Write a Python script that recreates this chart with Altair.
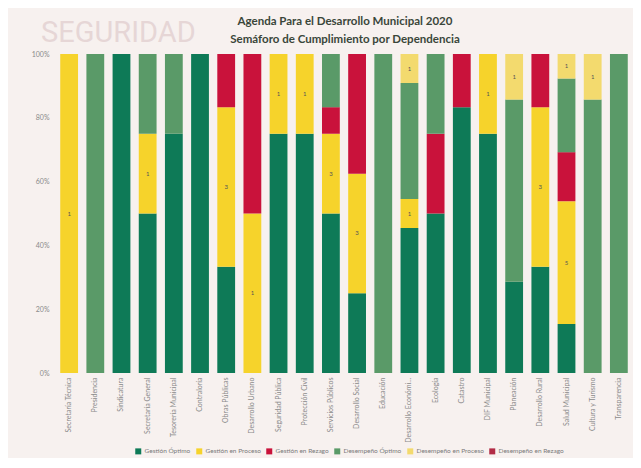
import altair as alt
import pandas as pd

titulo = ["Agenda Para el Desarrollo Municipal 2020",
          "Semáforo de Cumplimiento por Dependencia"]
dependencias = [
    "Secretaría Técnica", "Presidencia", "Sindicatura", "Secretaría General",
    "Tesorería Municipal", "Contraloría", "Obras Públicas", "Desarrollo Urbano",
    "Seguridad Pública", "Protección Civil", "Servicios Públicos", "Desarrollo Social",
    "Educación", "Desarrollo Económico", "Ecología", "Catastro", "DIF Municipal",
    "Planeación", "Desarrollo Rural", "Salud Municipal", "Cultura y Turismo", "Transparencia",
]
categorias = [
    "Gestión Óptimo", "Gestión en Proceso", "Gestión en Rezago",
    "Desempeño Óptimo", "Desempeño en Proceso", "Desempeño en Rezago",
]
colores = ["#0e7a57", "#f6d32b", "#c9123b", "#5a9a68", "#f3da6e", "#b22b45"]

gestion_optimo    = [0, 0, 1, 2, 3, 1, 2, 0, 3, 3, 6, 2, 0, 5, 2, 5, 3, 2, 2, 2, 0, 0]
gestion_proceso   = [1, 0, 0, 1, 0, 0, 3, 1, 1, 1, 3, 3, 0, 1, 0, 0, 1, 0, 3, 5, 0, 0]
gestion_rezago    = [0, 0, 0, 0, 0, 0, 1, 1, 0, 0, 1, 3, 0, 0, 1, 1, 0, 0, 1, 2, 0, 0]
desempeno_optimo  = [0, 1, 0, 1, 1, 0, 0, 0, 0, 0, 2, 0, 1, 4, 1, 0, 0, 4, 0, 3, 6, 1]
desempeno_proceso = [0, 0, 0, 0, 0, 0, 0, 0, 0, 0, 0, 0, 0, 1, 0, 0, 0, 1, 0, 1, 1, 0]
desempeno_rezago  = [0, 0, 0, 0, 0, 0, 0, 0, 0, 0, 0, 0, 0, 0, 0, 0, 0, 0, 0, 0, 0, 0]

series = [gestion_optimo, gestion_proceso, gestion_rezago,
          desempeno_optimo, desempeno_proceso, desempeno_rezago]

rows = []
for ci, (cat, vals) in enumerate(zip(categorias, series)):
    for dep, v in zip(dependencias, vals):
        rows.append({"dependencia": dep, "categoria": cat, "orden": ci, "n": v})
df = pd.DataFrame(rows)

FONT = "Lato"

base = alt.Chart(df).transform_filter("datum.n > 0").transform_stack(
    stack="n", groupby=["dependencia"], as_=["y0", "y1"],
    offset="normalize", sort=[alt.SortField("orden", order="ascending")]
)

x_enc = alt.X("dependencia:N", sort=dependencias, title=None,
              scale=alt.Scale(paddingInner=0.32, paddingOuter=0.2),
              axis=alt.Axis(labelAngle=-90, labelFontSize=7, labelColor="#8a8a8a",
                            labelFont=FONT, labelLimit=66, ticks=False, domain=False,
                            labelPadding=4))

bars = base.mark_bar().encode(
    x=x_enc,
    y=alt.Y("y0:Q", title=None, scale=alt.Scale(domain=[0, 1]),
            axis=alt.Axis(format="%", values=[i / 10 for i in range(11)],
                          labelFontSize=7, labelColor="#8a8a8a", labelFont=FONT,
                          grid=False, domain=False, ticks=False, labelPadding=6)),
    y2="y1:Q",
    color=alt.Color("categoria:N", scale=alt.Scale(domain=categorias, range=colores),
                    legend=alt.Legend(title=None, orient="none", direction="horizontal",
                                      legendX=80, legendY=394, symbolType="square",
                                      symbolSize=36, labelFontSize=6.5, labelColor="#7a7a7a",
                                      labelFont=FONT, columnPadding=5, symbolStrokeWidth=0,
                                      labelOffset=3)),
)

labels = base.transform_filter(
    "datum.orden == 1 || datum.orden == 4"
).transform_calculate(
    ym="(datum.y0 + datum.y1) / 2"
).mark_text(fontSize=6, color="#555555", font=FONT).encode(
    x=alt.X("dependencia:N", sort=dependencias),
    y="ym:Q",
    text="n:Q",
)

marca = alt.Chart(pd.DataFrame({"t": ["SEGURIDAD"]})).mark_text(
    font="Roboto", fontSize=29, color="#e6d6d6", align="left", baseline="middle"
).encode(text="t:N", x=alt.value(-14), y=alt.value(-21))

encabezado = alt.Chart(pd.DataFrame({"t": [0]})).mark_text(
    font=FONT, fontSize=11.5, fontWeight="bold", color="#3a463a",
    align="center", baseline="middle", lineHeight=18
).encode(text=alt.value(titulo), x=alt.value(290), y=alt.value(-32))

chart = alt.layer(marca, encabezado, bars, labels).properties(
    width=578, height=319,
    autosize=alt.AutoSizeParams(type="none"),
    padding={"left": 47, "top": 46, "right": 0, "bottom": 85},
    background="#f7f1ef",
).configure_view(stroke=None)

chart.save("out.html", embed_options={"renderer": "svg", "actions": False})
